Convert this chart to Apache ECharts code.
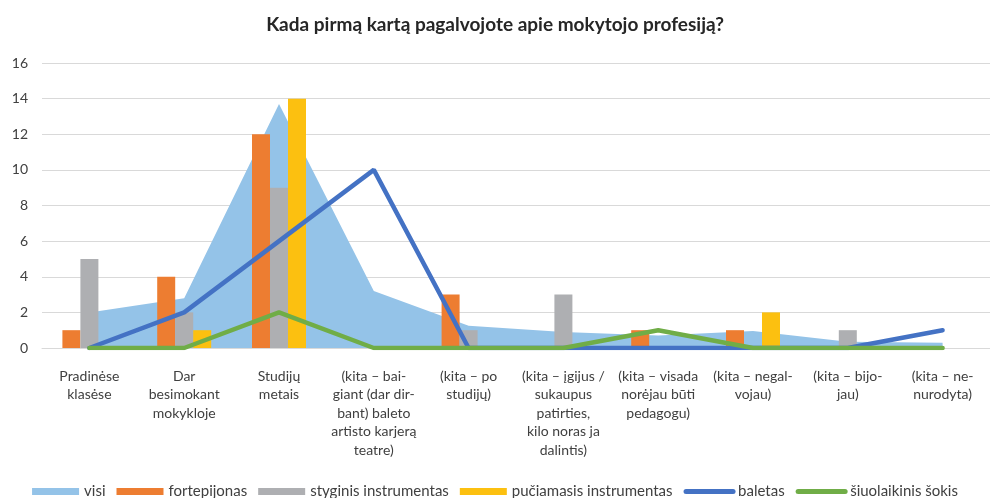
<!DOCTYPE html>
<html lang="lt">
  <head>
    <meta charset="UTF-8" />
    <title>Kada pirmą kartą pagalvojote apie mokytojo profesiją?</title>
    <script src="https://cdn.jsdelivr.net/npm/echarts@6.0.0/dist/echarts.min.js"></script>
    <style>
      html, body { margin: 0; padding: 0; background: #fff; overflow: hidden; }
    </style>
  </head>
  <body>
    <div id="chart" style="width: 990px; height: 498px"></div>

    <script type="text/javascript">
      // categories (x axis), wrapped like in the original
      const categories = [
        "Pradinėse\nklasėse",
        "Dar\nbesimokant\nmokykloje",
        "Studijų\nmetais",
        "(kita – bai-\ngiant (dar dir-\nbant) baleto\nartisto karjerą\nteatre)",
        "(kita – po\nstudijų)",
        "(kita – įgijus /\nsukaupus\npatirties,\nkilo noras ja\ndalintis)",
        "(kita – visada\nnorėjau būti\npedagogu)",
        "(kita – negal-\nvojau)",
        "(kita – bijo-\njau)",
        "(kita – ne-\nnurodyta)",
      ];

      // series values
      const visi = [2, 2.8, 13.7, 3.2, 1.25, 0.9, 0.7, 0.95, 0.35, 0.3];
      const fortepijonas = [1, 4, 12, 0, 3, 0, 1, 1, 0, 0];
      const styginis = [5, 2, 9, 0, 1, 3, 0, 0, 1, 0];
      const puciamasis = [0, 1, 14, 0, 0, 0, 0, 2, 0, 0];
      const baletas = [0, 2, 6, 10, 0, 0, 0, 0, 0, 1];
      const siuolaikinis = [0, 0, 2, 0, 0, 0, 1, 0, 0, 0];

      const yTicks = [0, 2, 4, 6, 8, 10, 12, 14, 16];

      const chart = echarts.init(document.getElementById("chart"));

      const font = "Lato, 'Open Sans', sans-serif";
      const barOpts = { type: "bar", barWidth: 18, barGap: "0%" };
      // legend entry for a line series: thick line, no symbol
      const lineLegend = (name, color) => ({
        name: name,
        itemStyle: { opacity: 0 },
        lineStyle: { width: 5, color: color, cap: "round" },
      });

      let options = {
        animation: false,
        textStyle: { fontFamily: font },
        title: {
          text: "Kada pirmą kartą pagalvojote apie mokytojo profesiją?",
          left: "center",
          top: 10,
          textStyle: { fontSize: 19, fontWeight: "bold", color: "#262626", fontFamily: font },
        },
        legend: {
          top: 479,
          left: "center",
          itemWidth: 47,
          itemHeight: 7,
          itemGap: 11,
          textStyle: { fontSize: 15, color: "#404040" },
          data: [
            { name: "visi", icon: "rect" },
            { name: "fortepijonas", icon: "rect" },
            { name: "styginis instrumentas", icon: "rect" },
            { name: "pučiamasis instrumentas", icon: "rect" },
            lineLegend("baletas", "#4472c4"),
            lineLegend("šiuolaikinis šokis", "#70ad47"),
          ],
        },
        grid: { left: 42, right: 0, top: 63, bottom: 150 },
        xAxis: {
          type: "category",
          data: categories,
          axisTick: { show: false },
          axisLine: { lineStyle: { color: "#d9d9d9", width: 1 } },
          axisLabel: {
            interval: 0,
            color: "#404040",
            fontSize: 14,
            lineHeight: 18.5,
            margin: 19,
            verticalAlign: "top",
          },
        },
        yAxis: {
          type: "value",
          min: yTicks[0],
          max: yTicks[yTicks.length - 1],
          interval: 2,
          axisLabel: { color: "#404040", fontSize: 14, margin: 14 },
          splitLine: { lineStyle: { color: "#d9d9d9", width: 1 } },
        },
        series: [
          {
            name: "visi",
            type: "line",
            z: 1,
            data: visi,
            symbol: "none",
            lineStyle: { width: 0 },
            itemStyle: { color: "#94c3e8" },
            areaStyle: { color: "#94c3e8", opacity: 1 },
          },
          { ...barOpts, name: "fortepijonas", data: fortepijonas, itemStyle: { color: "#ed7d31" } },
          { ...barOpts, name: "styginis instrumentas", data: styginis, itemStyle: { color: "#aeafb2" } },
          { ...barOpts, name: "pučiamasis instrumentas", data: puciamasis, itemStyle: { color: "#fcc010" } },
          {
            name: "baletas",
            type: "line",
            z: 3,
            data: baletas,
            symbol: "none",
            itemStyle: { color: "#4472c4" },
            lineStyle: { width: 4.5, color: "#4472c4", cap: "round" },
          },
          {
            name: "šiuolaikinis šokis",
            type: "line",
            z: 3,
            data: siuolaikinis,
            symbol: "none",
            itemStyle: { color: "#70ad47" },
            lineStyle: { width: 4.5, color: "#70ad47", cap: "round" },
          },
        ],
      };

      chart.setOption(options);
    </script>
  </body>
</html>
